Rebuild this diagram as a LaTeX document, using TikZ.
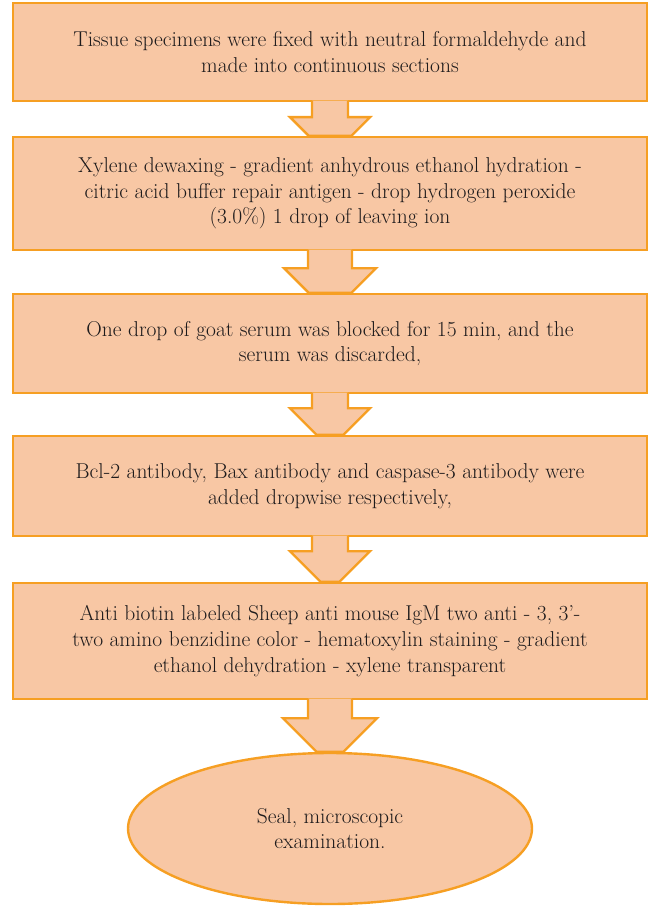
\documentclass[tikz,border=0pt]{standalone}
\usepackage{tikz}
\usetikzlibrary{shapes.geometric,calc}
\definecolor{boxfill}{RGB}{248,199,164}
\definecolor{boxline}{RGB}{246,159,35}
\definecolor{textcol}{RGB}{30,27,28}

\begin{document}
\begin{tikzpicture}[x=1pt, y=1pt,
  stepbox/.style={draw=boxline, fill=boxfill, line width=2.4pt, minimum width=634pt,
    align=center, text=textcol, font=\fontsize{21.5}{25.7}\selectfont},
  sealshape/.style={ellipse, draw=boxline, fill=boxfill, line width=2.4pt,
    minimum width=404pt, minimum height=151pt, align=center, text=textcol,
    font=\fontsize{21.5}{25.7}\selectfont},
  flowarrow/.style={draw=boxline, fill=boxfill, line width=2.4pt, line join=miter}]
  \useasboundingbox (0,0) rectangle (648,-909);
  \node[stepbox, minimum height=98pt] (b1) at (330,-52)
    {Tissue specimens were fixed with neutral formaldehyde and\\made into continuous sections};
  \node[stepbox, minimum height=113pt] (b2) at (330,-193.5)
    {Xylene dewaxing - gradient anhydrous ethanol hydration -\\citric acid buffer repair antigen - drop hydrogen peroxide\\(3.0\%) 1 drop of leaving ion};
  \node[stepbox, minimum height=99pt] (b3) at (330,-343.5)
    {One drop of goat serum was blocked for 15 min, and the\\serum was discarded,};
  \node[stepbox, minimum height=100pt] (b4) at (330,-486)
    {Bcl-2 antibody, Bax antibody and caspase-3 antibody were\\added dropwise respectively,};
  \node[stepbox, minimum height=116pt] (b5) at (330,-641)
    {Anti biotin labeled Sheep anti mouse IgM two anti - 3, 3'-\\two amino benzidine color - hematoxylin staining - gradient\\ethanol dehydration - xylene transparent};
  \node[sealshape] (seal) at (330,-828.5) {Seal, microscopic\\examination.};
  \foreach \a/\b/\s/\h/\l in {b1/b2/18/40/15, b2/b3/22/46/17, b3/b4/18/40/14, b4/b5/18/40/14, b5/seal/22/47/18}
    \filldraw[flowarrow] let \p1=(\a.south), \p2=(\b.north), \n1={\h-(\y1-\y2-\l)} in
      (\x1-\s,\y1+1.5) -- (\x1-\s,\y1-\l) -- (\x1-\h,\y1-\l) -- (\x2-\n1,\y2)
      -- (\x2+\n1,\y2) -- (\x1+\h,\y1-\l) -- (\x1+\s,\y1-\l) -- (\x1+\s,\y1+1.5);
\end{tikzpicture}
\end{document}
